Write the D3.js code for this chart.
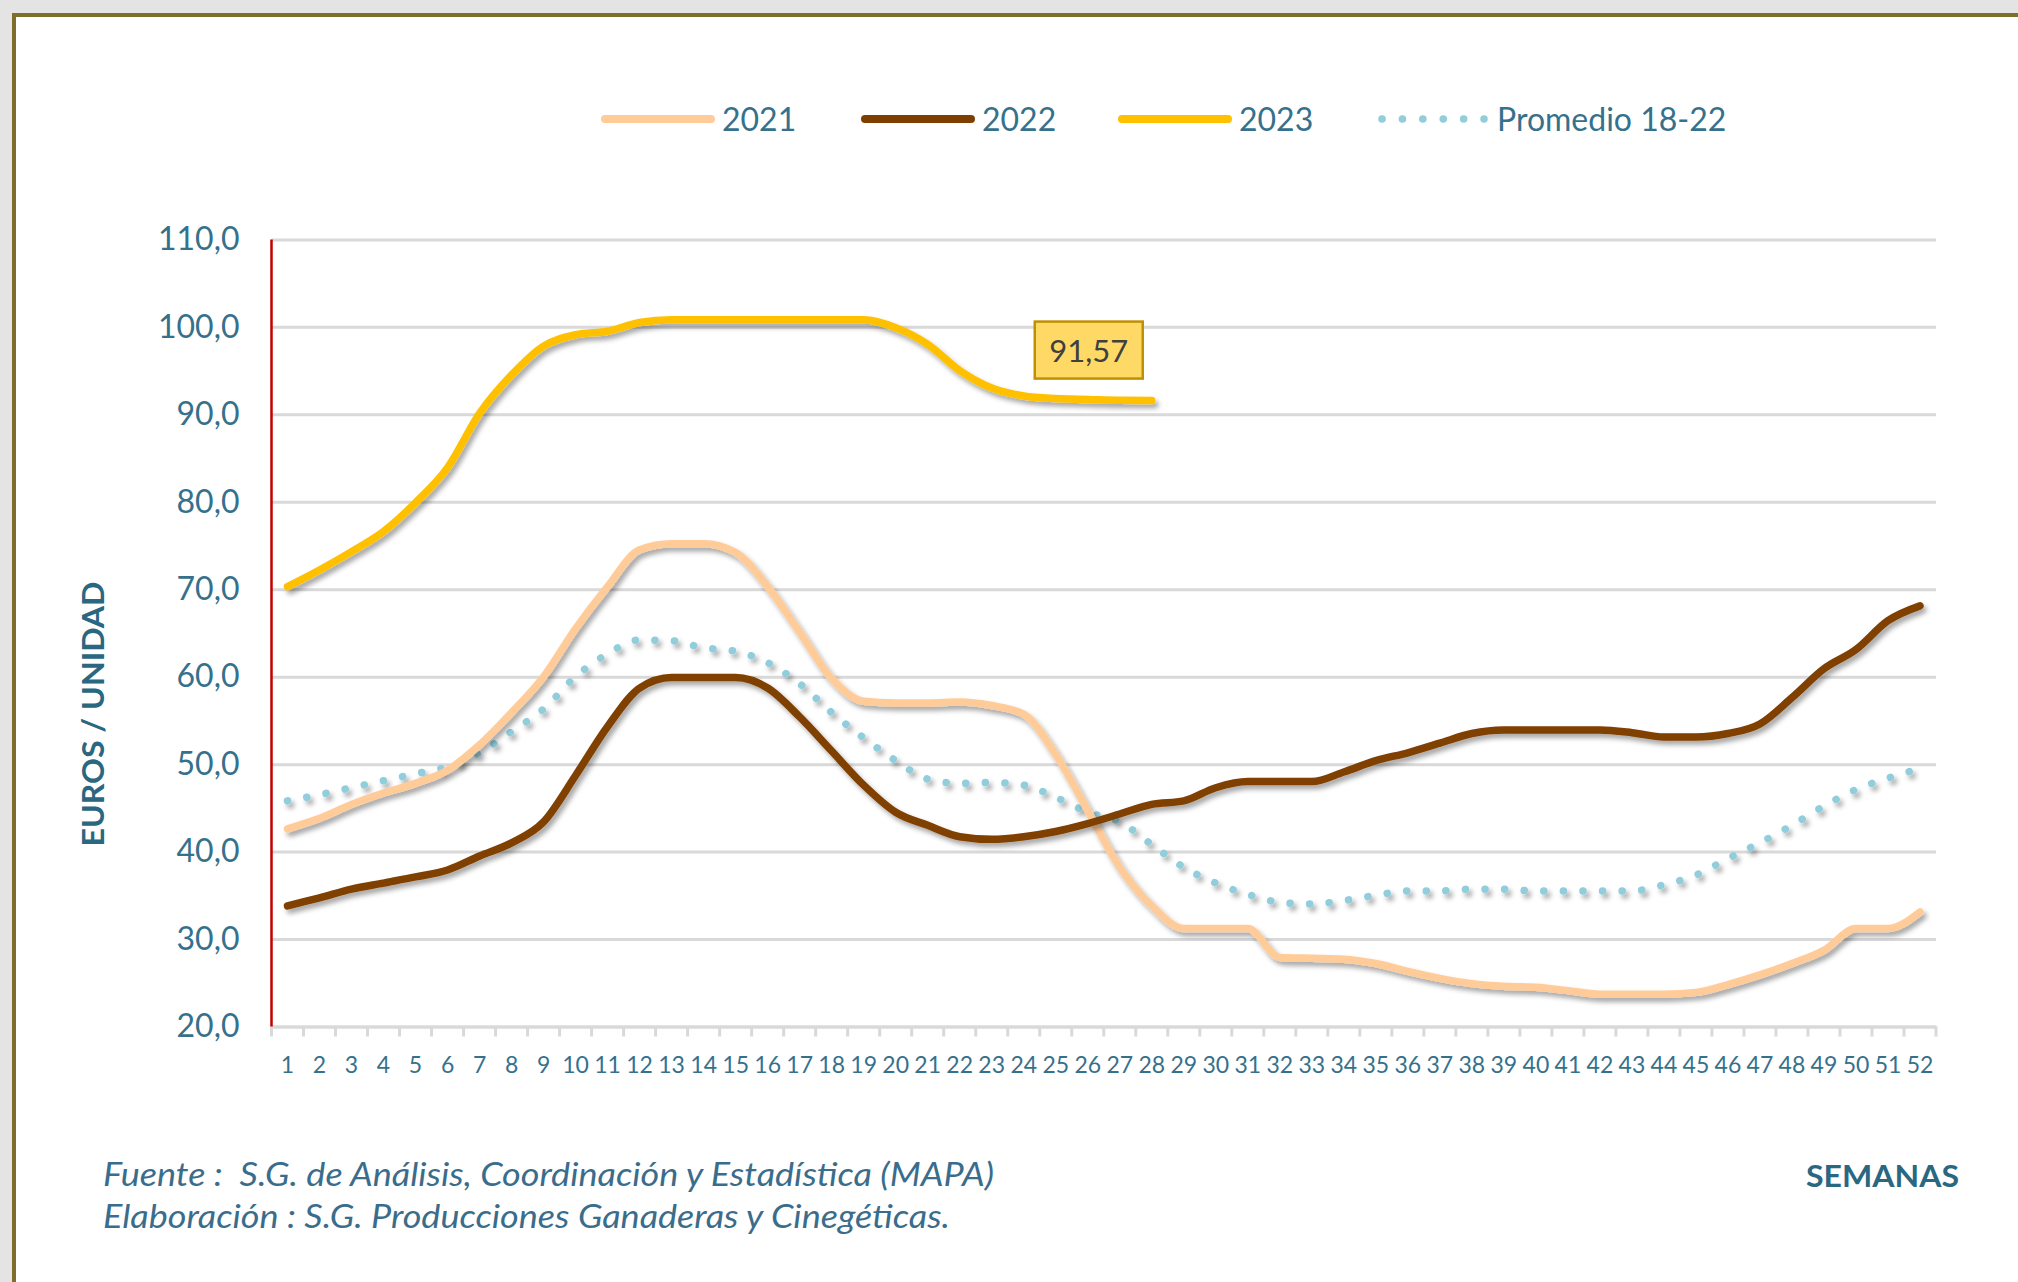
<!DOCTYPE html>
<html>
<head>
<meta charset="utf-8">
<script src="https://cdn.jsdelivr.net/npm/d3@7"></script>
<style>
  html, body { margin: 0; padding: 0; background: #e4e4e4; }
  svg { display: block; font-family: Lato, "Open Sans", sans-serif; }
  .tick-label { fill: #35718c; }
  .axis-title { fill: #2a6781; font-weight: bold; }
  .source { fill: #3a6d8c; font-style: italic; }
</style>
</head>
<body>
<svg id="chart"></svg>
<script>
// size of the picture
const width = 2018;
const height = 1282;

const margin = { top: 239.4, bottom: 255.5, left: 271.5, right: 82 };

// weeks 1..52
const weeks = d3.range(1, 53);
const yTicks = [20, 30, 40, 50, 60, 70, 80, 90, 100, 110];

// series values (euros / unidad)
const v2021 = [42.6, 43.8, 45.4, 46.7, 47.8, 49.3, 52.2, 55.9, 60.0, 65.5,
               70.3, 74.5, 75.2, 75.2, 74.2, 70.3, 65.1, 59.8, 57.2, 57.0,
               57.0, 57.1, 56.7, 55.7, 51.1, 44.7, 38.2, 33.8, 31.2, 31.2,
               31.2, 27.9, 27.8, 27.7, 27.2, 26.3, 25.5, 24.9, 24.6, 24.5,
               24.1, 23.7, 23.7, 23.7, 23.9, 24.8, 25.9, 27.2, 28.7, 31.2,
               31.2, 33.1];
const v2022 = [33.8, 34.7, 35.7, 36.4, 37.1, 37.9, 39.5, 41.0, 43.4, 48.7,
               54.3, 58.7, 59.9, 59.9, 59.9, 58.7, 55.4, 51.5, 47.6, 44.5,
               43.0, 41.7, 41.4, 41.7, 42.3, 43.2, 44.3, 45.4, 45.8, 47.3,
               48.0, 48.0, 48.0, 49.1, 50.4, 51.3, 52.4, 53.5, 53.9, 53.9,
               53.9, 53.9, 53.6, 53.1, 53.1, 53.5, 54.6, 57.6, 60.9, 63.1,
               66.4, 68.1];
const v2023 = [70.3, 72.2, 74.3, 76.6, 79.9, 83.9, 90.1, 94.5, 97.8, 99.1,
               99.5, 100.5, 100.8, 100.8, 100.8, 100.8, 100.8, 100.8, 100.8, 99.9,
               98.0, 95.0, 93.0, 92.1, 91.8, 91.7, 91.6, 91.57];
const vProm = [45.8, 46.5, 47.3, 48.1, 48.9, 49.7, 51.3, 53.7, 56.3, 60.0,
               62.6, 64.2, 64.1, 63.3, 62.9, 61.6, 59.2, 55.9, 53.0, 50.4,
               48.3, 47.8, 47.9, 47.6, 46.2, 44.5, 43.4, 40.8, 38.2, 36.4,
               35.1, 34.2, 34.0, 34.4, 35.0, 35.5, 35.5, 35.7, 35.7, 35.5,
               35.5, 35.5, 35.5, 36.2, 37.3, 39.2, 41.0, 43.0, 45.2, 47.1,
               48.4, 49.5];

const seriesNames = ['2021', '2022', '2023', 'Promedio 18-22'];
const seriesValues = [v2021, v2022, v2023, vProm];
const seriesColors = ['#ffcc99', '#7f3f00', '#ffc000', '#92cddc'];

const svg = d3.select('#chart')
  .attr('width', width)
  .attr('height', height);

// shadow under the lines
const defs = svg.append('defs');
defs.append('filter')
    .attr('id', 'shadow')
    .attr('x', '-5%').attr('y', '-5%')
    .attr('width', '110%').attr('height', '120%')
  .append('feDropShadow')
    .attr('dx', 3).attr('dy', 4)
    .attr('stdDeviation', 2.5)
    .attr('flood-color', '#000')
    .attr('flood-opacity', 0.35);

// page frame
svg.append('rect')
   .attr('width', width).attr('height', height)
   .attr('fill', '#e4e4e4');
svg.append('rect')
   .attr('x', 14).attr('y', 15)
   .attr('width', width + 50).attr('height', height + 50)
   .attr('fill', '#fff')
   .attr('stroke', '#7f6e2b')
   .attr('stroke-width', 4);

const scales = {
  x: d3.scaleBand()
       .domain(weeks)
       .range([margin.left, width - margin.right]),
  y: d3.scaleLinear()
       .domain([20, 110])
       .range([height - margin.bottom, margin.top])
};
const bw = scales.x.bandwidth();
const cx = w => scales.x(w) + bw / 2;

drawGrid();
drawAxis();
drawLines();
drawLabel();
drawLegend();
drawTitles();

function drawGrid() {
  const yAxis = d3.axisLeft(scales.y)
    .tickValues(yTicks)
    .tickSize(-(width - margin.left - margin.right))
    .tickPadding(32)
    .tickFormat(d => d3.format('.1f')(d).replace('.', ','));

  const g = svg.append('g')
    .attr('transform', translate(margin.left, 0))
    .call(yAxis);
  g.select('.domain').remove();
  g.selectAll('.tick line')
   .attr('stroke', '#d9d9d9')
   .attr('stroke-width', 3);
  g.selectAll('.tick text')
   .attr('class', 'tick-label')
   .attr('font-size', 32)
   .attr('font-family', 'Lato');
}

function drawAxis() {
  const y0 = scales.y(20);
  const g = svg.append('g').attr('id', 'x-axis');

  // tick marks on category boundaries
  const edges = weeks.map(w => scales.x(w)).concat([scales.x(52) + bw]);
  g.selectAll('line.edge')
   .data(edges)
   .enter().append('line')
   .attr('class', 'edge')
   .attr('x1', d => d).attr('x2', d => d)
   .attr('y1', y0).attr('y2', y0 + 10)
   .attr('stroke', '#d9d9d9')
   .attr('stroke-width', 3);

  const xAxis = d3.axisBottom(scales.x).tickSize(0).tickPadding(30);
  const ax = g.append('g')
    .attr('transform', translate(0, y0))
    .call(xAxis);
  ax.select('.domain')
    .attr('stroke', '#d9d9d9')
    .attr('stroke-width', 3);
  ax.selectAll('.tick text')
    .attr('class', 'tick-label')
    .attr('font-size', 23)
    .attr('font-family', 'Lato');

  // red vertical axis
  svg.append('line')
     .attr('x1', margin.left).attr('x2', margin.left)
     .attr('y1', scales.y(110)).attr('y2', y0)
     .attr('stroke', '#c00000')
     .attr('stroke-width', 2.5);
}

function drawLines() {
  const line = d3.line()
    .x((d, i) => cx(weeks[i]))
    .y(d => scales.y(d))
    .curve(d3.curveMonotoneX);

  const g = svg.append('g').attr('id', 'lines');
  // draw the average first so the years sit on top
  [3, 0, 1, 2].forEach(k => {
    const p = g.append('path')
      .datum(seriesValues[k])
      .attr('d', line)
      .attr('fill', 'none')
      .attr('stroke', seriesColors[k])
      .attr('stroke-width', 7.5)
      .attr('stroke-linecap', 'round')
      .attr('stroke-linejoin', 'round')
      .attr('filter', 'url(#shadow)');
    if (k === 3) {
      p.attr('stroke-dasharray', '0.1 19.5');
    }
  });
}

function drawLabel() {
  const last = v2023.length - 1;
  const value = v2023[last];
  const px = cx(weeks[last]) - 63;
  const py = scales.y(value) - 50;
  const g = svg.append('g').attr('transform', translate(px, py));
  g.append('rect')
   .attr('x', -54).attr('y', -29)
   .attr('width', 108).attr('height', 57)
   .attr('fill', '#ffd966')
   .attr('stroke', '#bf9000')
   .attr('stroke-width', 2.5);
  g.append('text')
   .attr('text-anchor', 'middle')
   .attr('dy', '0.36em')
   .attr('font-size', 31)
   .attr('fill', '#404040')
   .text(d3.format('.2f')(value).replace('.', ','));
}

function drawLegend() {
  const starts = [605, 865, 1122, 1380];
  const g = svg.append('g').attr('id', 'legend')
    .attr('transform', translate(0, 119));
  seriesNames.forEach((name, k) => {
    const l = g.append('line')
      .attr('x1', starts[k]).attr('x2', starts[k] + 106)
      .attr('y1', 0).attr('y2', 0)
      .attr('stroke', seriesColors[k])
      .attr('stroke-width', 8)
      .attr('stroke-linecap', 'round');
    if (k === 3) {
      l.attr('x1', starts[k] + 2).attr('x2', starts[k] + 104)
       .attr('stroke-width', 7.5)
       .attr('stroke-dasharray', '0.1 20.3');
    }
    g.append('text')
     .attr('class', 'tick-label')
     .attr('x', starts[k] + 117)
     .attr('dy', '0.36em')
     .attr('font-size', 32)
     .text(name);
  });
}

function drawTitles() {
  const yGroup = svg.append('g')
    .attr('transform', translate(93, 714));
  yGroup.append('text')
    .attr('class', 'axis-title')
    .attr('text-anchor', 'middle')
    .attr('dy', '0.36em')
    .attr('font-size', 30)
    .attr('textLength', 265)
    .attr('lengthAdjust', 'spacingAndGlyphs')
    .attr('transform', 'rotate(-90)')
    .text('EUROS / UNIDAD');

  svg.append('text')
    .attr('class', 'axis-title')
    .attr('x', 1806).attr('y', 1176)
    .attr('dy', '0.36em')
    .attr('font-size', 31)
    .attr('textLength', 153)
    .attr('lengthAdjust', 'spacingAndGlyphs')
    .text('SEMANAS');

  svg.append('text')
    .attr('class', 'source')
    .attr('x', 103).attr('y', 1174)
    .attr('dy', '0.36em')
    .attr('font-size', 33)
    .attr('textLength', 891)
    .attr('lengthAdjust', 'spacingAndGlyphs')
    .attr('xml:space', 'preserve')
    .text('Fuente :  S.G. de Análisis, Coordinación y Estadística (MAPA)');
  svg.append('text')
    .attr('class', 'source')
    .attr('x', 103).attr('y', 1216)
    .attr('dy', '0.36em')
    .attr('font-size', 33)
    .attr('textLength', 847)
    .attr('lengthAdjust', 'spacingAndGlyphs')
    .text('Elaboración : S.G. Producciones Ganaderas y Cinegéticas.');
}

/*
 * returns a translate string for the transform attribute
 */
function translate(x, y) {
  return 'translate(' + String(x) + ',' + String(y) + ')';
}
</script>
</body>
</html>
